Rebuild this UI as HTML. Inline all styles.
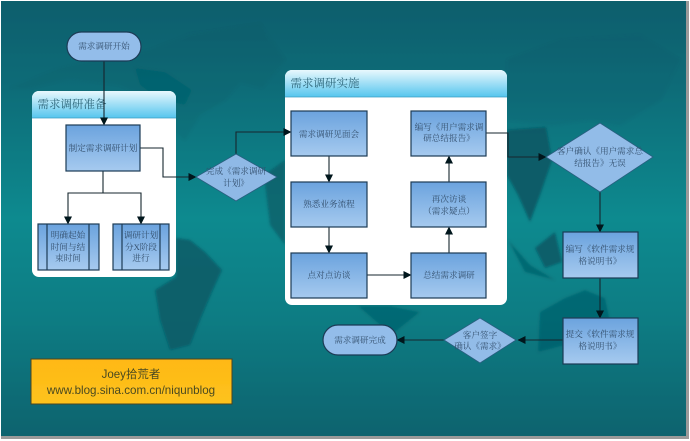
<!DOCTYPE html>
<html><head><meta charset="utf-8">
<style>
html,body{margin:0;padding:0;background:#fff;width:690px;height:441px;overflow:hidden}
svg{display:block}
text{font-family:"Liberation Serif","Noto Serif CJK SC",serif;text-anchor:middle;fill:#34506e;font-size:8.6px}
</style></head>
<body>
<svg width="690" height="441" viewBox="0 0 690 441" xmlns="http://www.w3.org/2000/svg">
<defs>
<linearGradient id="bg" x1="0" y1="0" x2="0" y2="1"><stop offset="0" stop-color="#0a5e6c"/><stop offset=".2" stop-color="#0a6c78"/><stop offset=".5" stop-color="#0b8a8f"/><stop offset=".72" stop-color="#0a7d84"/><stop offset="1" stop-color="#09636e"/></linearGradient>
<linearGradient id="bx" x1="0" y1="0" x2="0" y2="1"><stop offset="0" stop-color="#6ba3de"/><stop offset="1" stop-color="#a6caef"/></linearGradient>
<linearGradient id="hd" x1="0" y1="0" x2="0" y2="1"><stop offset="0" stop-color="#e8f8fd"/><stop offset="1" stop-color="#55c5ee"/></linearGradient>
<linearGradient id="ye" x1="0" y1="0" x2="0" y2="1"><stop offset="0" stop-color="#ffb812"/><stop offset="1" stop-color="#fdc31f"/></linearGradient>
<filter id="bl" x="-5%" y="-5%" width="110%" height="110%"><feGaussianBlur stdDeviation="1.2"/></filter>
<filter id="soft" x="0" y="0" width="100%" height="100%"><feGaussianBlur stdDeviation=".35"/></filter>
<marker id="a" markerWidth="9" markerHeight="9" refX="7.5" refY="4" orient="auto" markerUnits="userSpaceOnUse"><path d="M0 0L8 4L0 8z" fill="#06141a"/></marker>
</defs>
<rect width="690" height="441" fill="#fff"/>
<rect x="686" y="1" width="3" height="437" fill="#9a9a9a"/>
<rect x="1" y="436" width="688" height="3" fill="#9a9a9a"/>
<g filter="url(#soft)">
<rect x="1" y="1" width="685" height="435" fill="url(#bg)"/>
<g fill="#0a5864" filter="url(#bl)">
<path d="M10 88L60 68L110 58L150 50L190 34L260 24L285 60L262 88L240 82L225 100L200 115L185 140L170 128L150 100L120 85L70 78L30 88z" opacity=".16"/>
<path d="M135 68L165 72L192 90L185 105L160 100L140 85z" opacity=".3"/>
<path d="M176 238L190 240L205 252L222 270L212 292L200 320L190 345L170 350L160 320L155 290L176 277z" opacity=".8"/>
<path d="M264 175L285 160L285 245L270 225z" opacity=".7"/>
<path d="M507 60L560 40L640 35L680 60L660 100L620 125L590 120L552 125L507 120z" opacity=".14"/>
<path d="M507 130L546 127L552 160L540 195L530 222L518 195L507 175z" opacity=".9"/>
<path d="M330 306L390 306L420 312L395 332L380 325L358 306z" opacity=".5"/>
<path d="M540 312L565 298L585 290L605 298L615 345L590 345L565 345L538 352z" opacity=".55"/>
<path d="M535 248L555 232L562 262L545 268z" opacity=".85"/>
<path d="M508 240L530 265L555 280L525 272z" opacity=".6"/>
</g>

<!-- panel 1 -->
<rect x="32" y="91" width="144" height="186" rx="7" fill="#fff"/>
<path d="M32 118V98a7 7 0 0 1 7-7h130a7 7 0 0 1 7 7v20z" fill="url(#hd)"/>
<line x1="32" y1="118" x2="176" y2="118" stroke="#3c9cc0" stroke-width=".8"/>
<text x="72" y="108" style="font-size:11.5px;fill:#2d6578">需求调研准备</text>

<!-- panel 2 -->
<rect x="285" y="70" width="222" height="235" rx="7" fill="#fff"/>
<path d="M285 97V77a7 7 0 0 1 7-7h208a7 7 0 0 1 7 7v20z" fill="url(#hd)"/>
<line x1="285" y1="97" x2="507" y2="97" stroke="#3c9cc0" stroke-width=".8"/>
<text x="325" y="87" style="font-size:11.5px;fill:#2d6578">需求调研实施</text>

<!-- connectors -->
<g fill="none" stroke="#14262e" stroke-width="1.1" marker-end="url(#a)">
<path d="M104 61V125"/>
<path d="M140 148H163V177H196"/>
<path d="M103 171V193H68V224"/>
<path d="M103 193H141V224"/>
<path d="M236 154V132H291"/>
<path d="M329 156V182"/>
<path d="M329 227V253"/>
<path d="M367 275H411"/>
<path d="M449 253V227"/>
<path d="M449 182V156"/>
<path d="M486 133H508V157H546"/>
<path d="M600 192V232"/>
<path d="M600 278V318"/>
<path d="M563 340H518"/>
<path d="M444 340H397"/>
</g>

<g fill="url(#bx)" stroke="#1d3a55" stroke-width="1.2">
<rect x="67" y="32" width="74" height="29" rx="14.5" fill="#93bdea"/>
<rect x="66" y="125" width="74" height="46"/>
<rect x="38" y="224" width="61" height="46"/>
<line x1="47" y1="224" x2="47" y2="270"/><line x1="89" y1="224" x2="89" y2="270"/>
<rect x="113" y="224" width="56" height="46"/>
<line x1="122" y1="224" x2="122" y2="270"/><line x1="160" y1="224" x2="160" y2="270"/>
<path d="M196 177L236 154L277 177L236 201z" fill="#8fb9e6" stroke="#2a5f80" stroke-width=".8"/>
<rect x="291" y="111" width="76" height="45"/>
<rect x="291" y="182" width="76" height="45"/>
<rect x="291" y="253" width="76" height="45"/>
<rect x="411" y="111" width="75" height="45"/>
<rect x="411" y="182" width="75" height="45"/>
<rect x="411" y="253" width="75" height="45"/>
<path d="M546 157L600 123L653 157L600 192z" fill="#92bce8" stroke="#2a5f80" stroke-width=".8"/>
<rect x="563" y="232" width="75" height="46"/>
<rect x="563" y="318" width="75" height="46"/>
<path d="M444 340L480 318L516 340L480 363z" fill="#92bce8" stroke="#2a5f80" stroke-width=".8"/>
<rect x="323" y="325" width="74" height="30" rx="15" fill="#93bdea"/>
</g>

<text x="104" y="49">需求调研开始</text>
<text x="103" y="151">制定需求调研计划</text>
<text x="68" y="238">明确起始</text><text x="68" y="250">时间与结</text><text x="68" y="261">束时间</text>
<text x="141" y="238">调研计划</text><text x="141" y="250">分X阶段</text><text x="141" y="261">进行</text>
<text x="236" y="174">完成《需求调研</text><text x="236" y="186">计划》</text>
<text x="329" y="137">需求调研见面会</text>
<text x="329" y="207">熟悉业务流程</text>
<text x="329" y="278">点对点访谈</text>
<text x="449" y="130">编写《用户需求调</text><text x="449" y="141">研总结报告》</text>
<text x="449" y="202">再次访谈</text><text x="449" y="214">（需求疑点）</text>
<text x="449" y="278">总结需求调研</text>
<text x="600" y="154">客户确认《用户需求总</text><text x="600" y="166">结报告》无误</text>
<text x="600" y="252">编写《软件需求规</text><text x="600" y="264">格说明书》</text>
<text x="600" y="337">提交《软件需求规</text><text x="600" y="349">格说明书》</text>
<text x="480" y="338">客户签字</text><text x="480" y="349">确认《需求》</text>
<text x="360" y="343">需求调研完成</text>

<rect x="31" y="359" width="201" height="45" fill="url(#ye)" stroke="#4a4420" stroke-width="1"/>
<text x="131" y="378" style="font-family:'Liberation Sans','Noto Sans CJK SC',sans-serif;font-size:11.5px;fill:#4a4a20">Joey拾荒者</text>
<text x="131" y="394" style="font-family:'Liberation Sans','Noto Sans CJK SC',sans-serif;font-size:11.6px;fill:#4a4a20">www.blog.sina.com.cn/niqunblog</text>
</g>
</svg>
</body></html>
